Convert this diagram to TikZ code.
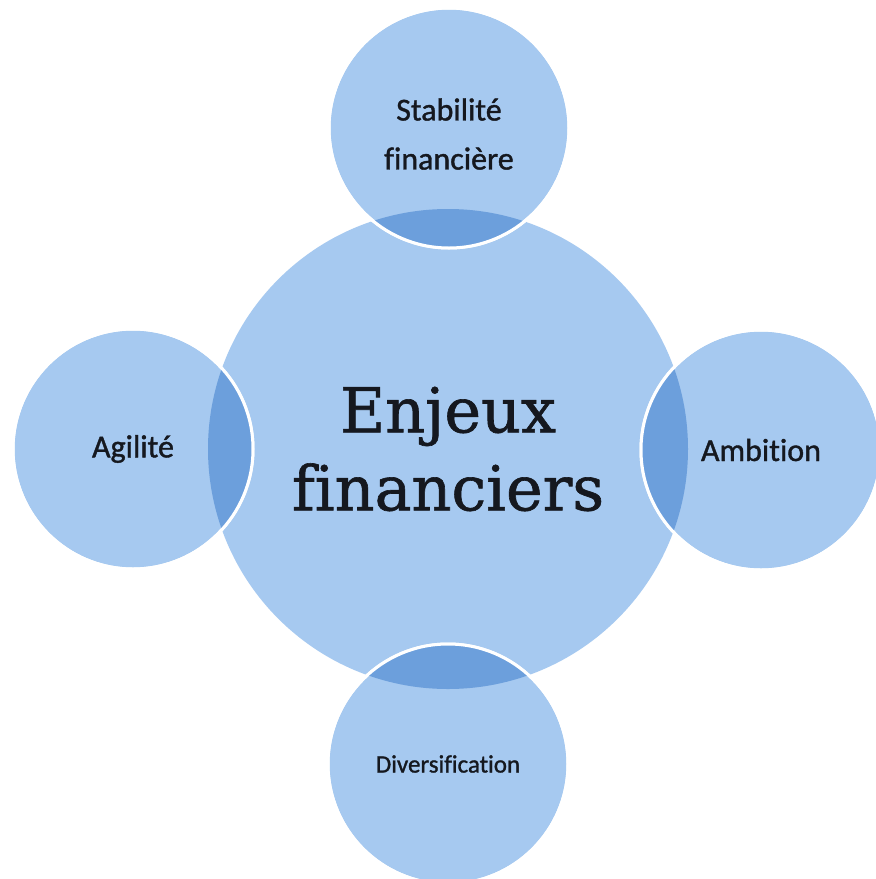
\documentclass[tikz,border=0pt]{standalone}
\usepackage{fontspec}
\setmainfont{Carlito}[Ligatures=NoCommon]
\newfontfamily\satfont{Carlito}[Ligatures=NoCommon, FakeBold=1.2]
\newfontfamily\hubfont{DejaVu Serif}[Ligatures=NoCommon, FakeBold=1]
\definecolor{circfill}{HTML}{A6C9F0}
\definecolor{lensfill}{HTML}{6C9FDC}
\definecolor{txtcol}{HTML}{15181F}
\begin{document}
\begin{tikzpicture}[x=1pt,y=-1pt,
  hub/.style={circle, fill=circfill, minimum size=480pt, inner sep=0pt,
    text=txtcol, align=center, font=\hubfont\fontsize{62}{78}\selectfont},
  sat/.style={circle, fill=circfill, draw=white, line width=3pt,
    minimum size=240pt, inner sep=0pt, text=txtcol, align=center,
    font=\satfont\fontsize{32}{49}\selectfont},
  sattext/.style={text=txtcol, align=center, font=\satfont\fontsize{32}{49}\selectfont},
  lens/.style={fill=lensfill},
  rim/.style={draw=white, line width=3pt}]
\useasboundingbox (0,0) rectangle (876,879);
\fill[white] (0,0) rectangle (876,879);
\node[hub] (hub) at (448,449) {Enjeux\\financiers};
\node[sat, label={[sattext, yshift=-6pt]center:Stabilité\\financière}] (top) at (449,128) {};
\node[sat] (left) at (133,449) {Agilité};
\node[sat] (right) at (761,450) {Ambition};
\node[sat, font=\satfont\fontsize{25}{30}\selectfont] (bottom) at (448,764) {Diversification};
\foreach \s in {top,left,right,bottom}{
  \begin{scope}
    \clip (hub) circle[radius=240pt];
    \fill[lens] (\s) circle[radius=120pt];
  \end{scope}
  \draw[rim] (\s) circle[radius=120pt];
}
\end{tikzpicture}
\end{document}
